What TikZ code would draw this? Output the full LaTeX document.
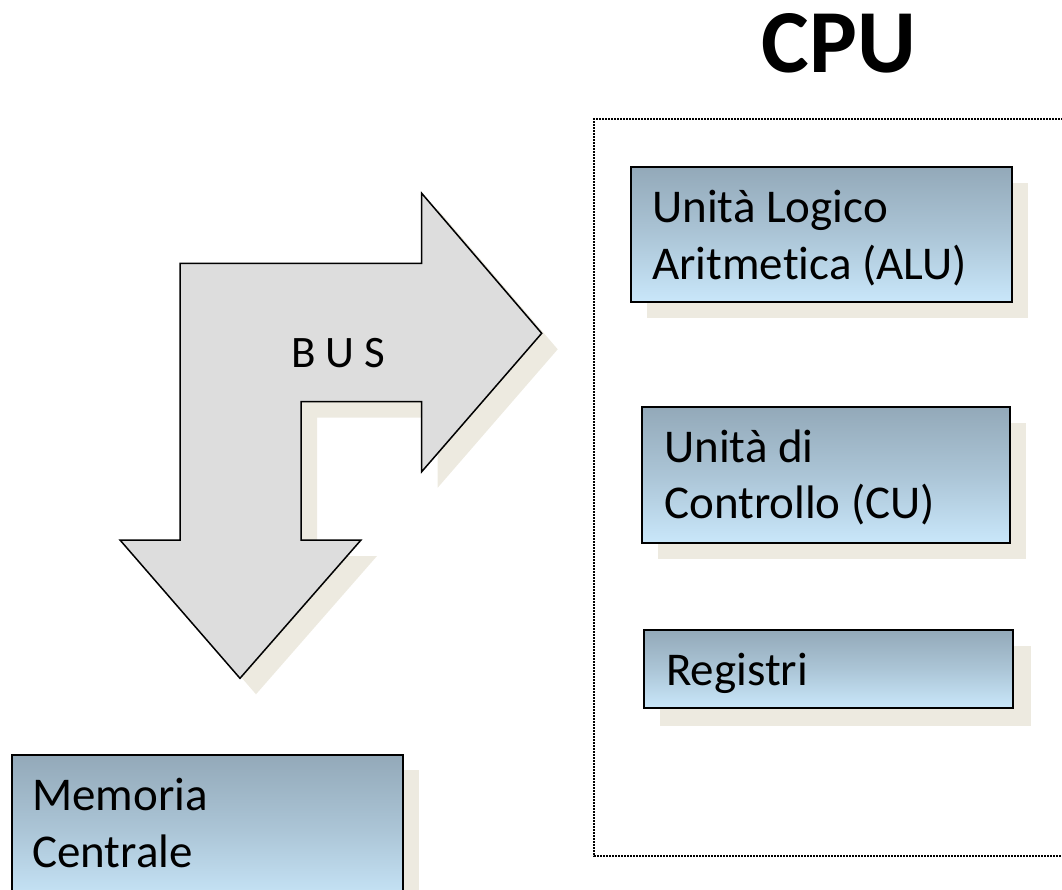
\documentclass[tikz,border=0pt]{standalone}
\usepackage{fontspec}
\setmainfont{Carlito}[Ligatures=NoCommon]
\definecolor{shadowc}{HTML}{EDEAE0}
\definecolor{boxtop}{HTML}{93A9B9}
\definecolor{boxbot}{HTML}{C9E7FA}
\definecolor{busfill}{HTML}{DDDDDD}
\tikzset{
  unitbox/.style={draw=black, line width=2pt,
    top color=boxtop, bottom color=boxbot, middle color=boxtop!55!boxbot},
  unitshadow/.style={fill=shadowc, draw=none},
  unitlabel/.style={anchor=base west, inner sep=0pt, font=\fontsize{47}{56}\selectfont},
}
\begin{document}
\begin{tikzpicture}[x=1pt, y=-1pt]
\useasboundingbox (0,0) rectangle (1062,889);

% CPU title and its dashed frame
\node[anchor=base, inner sep=0pt, font=\fontsize{90}{100}\selectfont\bfseries] (cpu) at (839,72) {CPU};
\draw[line width=1.2pt, dash pattern=on 2pt off 1pt] (1075,119) -- (594,119) -- (594,856) -- (1075,856);

% bus arrow: shadow, then the shape
\fill[shadowc] ([shift={(16,16)}]421.7,193.3) -- ([shift={(16,16)}]541.7,333.3) -- ([shift={(16,16)}]421.7,471.7)
  -- ([shift={(16,16)}]421.7,401.7) -- ([shift={(16,16)}]301,401.7) -- ([shift={(16,16)}]301,540)
  -- ([shift={(16,16)}]361,540) -- ([shift={(16,16)}]240,678.3) -- ([shift={(16,16)}]120,540)
  -- ([shift={(16,16)}]180,540) -- ([shift={(16,16)}]180,263.3) -- ([shift={(16,16)}]421.7,263.3) -- cycle;
\draw[fill=busfill, line width=1.5pt, line join=miter] (421.7,193.3) -- (541.7,333.3) -- (421.7,471.7)
  -- (421.7,401.7) -- (301,401.7) -- (301,540) -- (361,540) -- (240,678.3) -- (120,540)
  -- (180,540) -- (180,263.3) -- (421.7,263.3) -- cycle;
\node[anchor=base west, inner sep=0pt, font=\fontsize{45}{54}\selectfont] (bus) at (291,367) {B U S};

% ALU
\fill[unitshadow] (647,183) rectangle (1028,318);
\draw[unitbox] (631,167) rectangle (1012,302);
\node[unitlabel] (alu1) at (652,222) {Unità Logico};
\node[unitlabel] (alu2) at (652,279) {Aritmetica (ALU)};

% CU
\fill[unitshadow] (658,423) rectangle (1026,559);
\draw[unitbox] (642,407) rectangle (1010,543);
\node[unitlabel] (cu1) at (664,462) {Unità di};
\node[unitlabel] (cu2) at (664,518) {Controllo (CU)};

% registers
\fill[unitshadow] (660,646) rectangle (1031,726);
\draw[unitbox] (644,630) rectangle (1013,708);
\node[unitlabel] (reg) at (666,685) {Registri};

% main memory
\fill[unitshadow] (28,770) rectangle (419,900);
\draw[unitbox] (12,755) rectangle (403,905);
\node[unitlabel] (mem1) at (32,810) {Memoria};
\node[unitlabel] (mem2) at (32,867) {Centrale};
\end{tikzpicture}
\end{document}
